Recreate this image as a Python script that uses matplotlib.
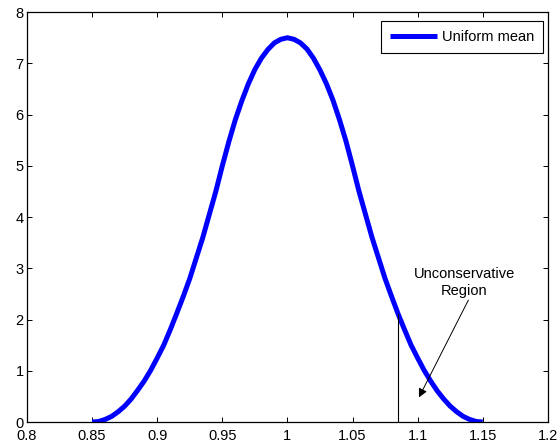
import numpy as np
import matplotlib
matplotlib.use('Agg')
import matplotlib.pyplot as plt

plt.rcParams['font.family'] = ['Liberation Sans', 'DejaVu Sans']

# density
x_vals = [0.85, 0.855, 0.86, 0.865, 0.87, 0.875, 0.88, 0.885, 0.89, 0.895,
          0.90, 0.905, 0.91, 0.915, 0.92, 0.925, 0.93, 0.935, 0.94, 0.945,
          0.95, 0.955, 0.96, 0.965, 0.97, 0.975, 0.98, 0.985, 0.99, 0.995,
          1.00, 1.005, 1.01, 1.015, 1.02, 1.025, 1.03, 1.035, 1.04, 1.045,
          1.05, 1.055, 1.06, 1.065, 1.07, 1.075, 1.08, 1.085, 1.09, 1.095,
          1.10, 1.105, 1.11, 1.115, 1.12, 1.125, 1.13, 1.135, 1.14, 1.145, 1.15]
density = [0.0, 0.01, 0.05, 0.11, 0.2, 0.31, 0.45, 0.62, 0.8, 1.01,
           1.25, 1.5, 1.8, 2.12, 2.45, 2.8, 3.2, 3.6, 4.05, 4.5,
           5.0, 5.47, 5.9, 6.27, 6.6, 6.88, 7.1, 7.27, 7.4, 7.47,
           7.5, 7.47, 7.4, 7.28, 7.1, 6.87, 6.6, 6.28, 5.9, 5.48,
           5.0, 4.5, 4.05, 3.6, 3.2, 2.8, 2.45, 2.11, 1.8, 1.5,
           1.25, 1.01, 0.8, 0.61, 0.45, 0.31, 0.2, 0.11, 0.05, 0.01, 0.0]

cut_x = 1.085
cut_top = 2.1
label_text = 'Unconservative\nRegion'
label_pos = (1.136, 2.72)
arrow_tail = (1.139, 2.38)
arrow_head = (1.101, 0.48)

fs = 10.5

fig = plt.figure(figsize=(5.57, 4.47), dpi=100)
ax = fig.add_axes([0.0485, 0.0559, 0.935, 0.917])

ax.plot(x_vals, density, color='#0000ff', linewidth=3.6, label='Uniform mean',
        solid_capstyle='butt')
ax.plot([cut_x, cut_x], [0, cut_top], color='black', linewidth=0.8)

ax.text(label_pos[0], label_pos[1], label_text, ha='center', va='center',
        fontsize=fs, linespacing=1.25)
ax.annotate('', xy=arrow_head, xytext=arrow_tail,
            arrowprops=dict(arrowstyle='-|>', color='black', lw=0.7,
                            mutation_scale=13, shrinkA=0, shrinkB=0))

ax.set_xlim(0.8, 1.2)
ax.set_ylim(0, 8)
ax.set_xticks(np.arange(0.8, 1.2001, 0.05))
ax.set_xticklabels(['0.8', '0.85', '0.9', '0.95', '1', '1.05', '1.1', '1.15', '1.2'])
ax.set_yticks(range(0, 9))
ax.tick_params(direction='in', top=True, right=True, labelsize=fs,
               length=3.5, width=0.7)
ax.tick_params(axis='x', pad=5)
ax.tick_params(axis='y', pad=2.5)
for s in ax.spines.values():
    s.set_linewidth(0.9)

leg = ax.legend(loc='upper right', bbox_to_anchor=(0.9904, 0.978), fontsize=fs,
                handlelength=3.2, fancybox=False, framealpha=1, edgecolor='black',
                borderaxespad=0, borderpad=0.6, handletextpad=0.35)
leg.get_frame().set_linewidth(0.8)

fig.savefig('out.png', dpi=100)
